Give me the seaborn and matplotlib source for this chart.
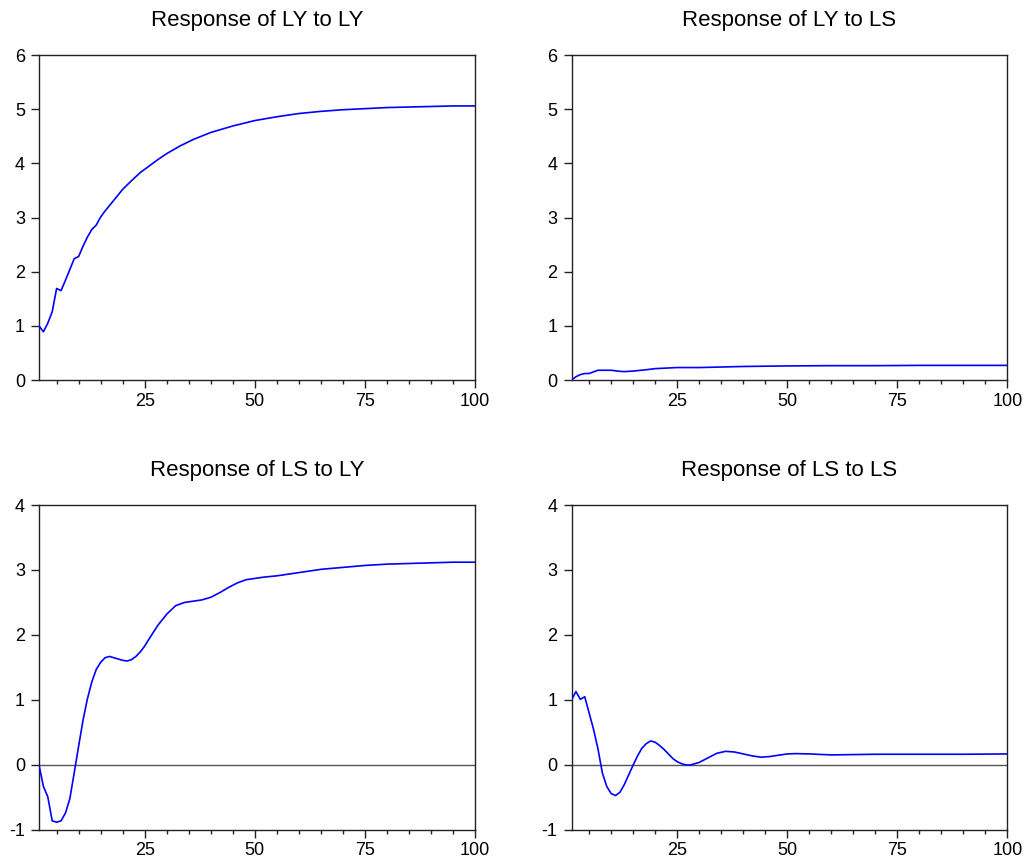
import pandas as pd
import matplotlib
matplotlib.use("Agg")
import matplotlib.pyplot as plt
import seaborn as sns
from matplotlib.ticker import MultipleLocator, FixedLocator

# Response of LY to LY
ly_ly_period = [1, 2, 3, 4, 5, 6, 7, 8, 9, 10, 11, 12, 13, 14, 15, 16, 18, 20, 22, 24,
                26, 28, 30, 33, 36, 40, 45, 50, 55, 60, 65, 70, 75, 80, 85, 90, 95, 100]
ly_ly_value = [1.0, 0.89, 1.05, 1.26, 1.69, 1.65, 1.84, 2.04, 2.24, 2.28, 2.47, 2.64, 2.78,
               2.86, 3.01, 3.12, 3.32, 3.52, 3.68, 3.83, 3.95, 4.07, 4.18, 4.32, 4.44, 4.57,
               4.69, 4.79, 4.86, 4.92, 4.96, 4.99, 5.01, 5.03, 5.04, 5.05, 5.06, 5.06]

# Response of LY to LS
ly_ls_period = [1, 2, 3, 4, 5, 6, 7, 8, 10, 12, 13, 15, 18, 20, 25, 30, 40, 50, 60, 70,
                80, 90, 100]
ly_ls_value = [0.0, 0.06, 0.10, 0.12, 0.12, 0.15, 0.18, 0.18, 0.18, 0.16, 0.155, 0.165,
               0.19, 0.21, 0.23, 0.23, 0.25, 0.26, 0.265, 0.265, 0.27, 0.27, 0.27]

# Response of LS to LY
ls_ly_period = [1, 2, 3, 4, 5, 6, 7, 8, 9, 10, 11, 12, 13, 14, 15, 16, 17, 18, 19, 20,
                21, 22, 23, 24, 25, 26, 28, 30, 32, 34, 36, 38, 40, 42, 44, 46, 48, 50,
                52, 55, 60, 65, 70, 75, 80, 85, 90, 95, 100]
ls_ly_value = [0.0, -0.33, -0.49, -0.86, -0.88, -0.86, -0.74, -0.52, -0.12, 0.29, 0.69,
               1.02, 1.28, 1.47, 1.58, 1.65, 1.67, 1.65, 1.63, 1.61, 1.60, 1.62, 1.67,
               1.74, 1.83, 1.94, 2.15, 2.32, 2.45, 2.50, 2.52, 2.54, 2.58, 2.65, 2.73,
               2.80, 2.85, 2.87, 2.89, 2.91, 2.96, 3.01, 3.04, 3.07, 3.09, 3.10, 3.11,
               3.12, 3.12]

# Response of LS to LS
ls_ls_period = [1, 2, 3, 4, 5, 6, 7, 8, 9, 10, 11, 12, 13, 14, 15, 16, 17, 18, 19, 20,
                21, 22, 23, 24, 25, 26, 27, 28, 30, 32, 34, 36, 38, 40, 42, 44, 46, 48,
                50, 52, 55, 60, 65, 70, 80, 90, 100]
ls_ls_value = [1.0, 1.13, 1.01, 1.05, 0.80, 0.55, 0.25, -0.12, -0.33, -0.44, -0.47, -0.42,
               -0.30, -0.15, 0.0, 0.14, 0.26, 0.33, 0.37, 0.35, 0.30, 0.24, 0.17, 0.10,
               0.05, 0.02, 0.0, 0.0, 0.04, 0.11, 0.18, 0.21, 0.20, 0.17, 0.14, 0.12, 0.13,
               0.15, 0.17, 0.175, 0.17, 0.155, 0.16, 0.165, 0.165, 0.165, 0.17]

panels = [
    ("Response of LY to LY", ly_ly_period, ly_ly_value, (0, 6)),
    ("Response of LY to LS", ly_ls_period, ly_ls_value, (0, 6)),
    ("Response of LS to LY", ls_ly_period, ls_ly_value, (-1, 4)),
    ("Response of LS to LS", ls_ls_period, ls_ls_value, (-1, 4)),
]

sns.set_style("ticks")
plt.rcParams["font.family"] = ["Liberation Sans", "DejaVu Sans"]
plt.rcParams["xtick.direction"] = "out"
plt.rcParams["ytick.direction"] = "out"
plt.rcParams["axes.unicode_minus"] = False
plt.rcParams["text.color"] = "black"
plt.rcParams["xtick.color"] = "#222222"
plt.rcParams["ytick.color"] = "#222222"
plt.rcParams["xtick.labelcolor"] = "black"
plt.rcParams["ytick.labelcolor"] = "black"

fig = plt.figure(figsize=(10.29, 8.68), dpi=100)

lefts = [0.0379, 0.5554]
bottoms = [0.5622, 0.0438]
width = 0.4237
height = 0.3744

for i, (title, period, value, ylim) in enumerate(panels):
    ax = fig.add_axes([lefts[i % 2], bottoms[i // 2], width, height])
    df = pd.DataFrame({"period": period, "value": value})
    if ylim[0] < 0:
        ax.axhline(0, color="#555555", lw=1, zorder=1)
    sns.lineplot(data=df, x="period", y="value", ax=ax, color="#0000ff", lw=1.2, zorder=3)
    ax.set_xlim(1, 100)
    ax.set_ylim(*ylim)
    ax.xaxis.set_major_locator(FixedLocator([25, 50, 75, 100]))
    ax.xaxis.set_minor_locator(MultipleLocator(5))
    ax.yaxis.set_major_locator(MultipleLocator(1))
    ax.tick_params(axis="x", which="major", length=6, width=1, labelsize=13, pad=3)
    ax.tick_params(axis="x", which="minor", length=3, width=1)
    ax.tick_params(axis="y", which="major", length=6, width=1, labelsize=13, pad=4)
    ax.set_xlabel("")
    ax.set_ylabel("")
    ax.set_title(title, fontsize=16, pad=21, color="black")
    for s in ax.spines.values():
        s.set_visible(True)
        s.set_linewidth(1)
        s.set_color("#222222")

fig.savefig("out.png", dpi=100)
